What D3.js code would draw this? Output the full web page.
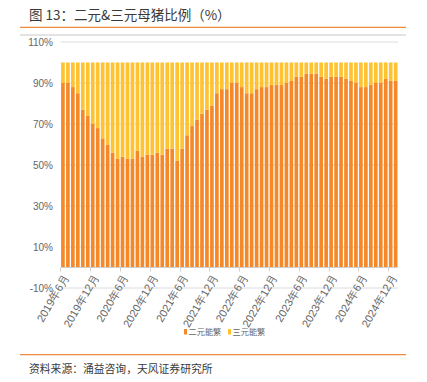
<!DOCTYPE html>
<html><head><meta charset="utf-8">
<script src="https://cdn.jsdelivr.net/npm/d3@7"></script>
<style>
html,body{margin:0;padding:0;background:#fff;}
svg{display:block;}
</style></head>
<body>
<svg id="c" width="427" height="382"></svg>
<script>
const months = [
"2019年6月","2019年7月","2019年8月","2019年9月","2019年10月","2019年11月","2019年12月",
"2020年1月","2020年2月","2020年3月","2020年4月","2020年5月","2020年6月","2020年7月","2020年8月","2020年9月","2020年10月","2020年11月","2020年12月",
"2021年1月","2021年2月","2021年3月","2021年4月","2021年5月","2021年6月","2021年7月","2021年8月","2021年9月","2021年10月","2021年11月","2021年12月",
"2022年1月","2022年2月","2022年3月","2022年4月","2022年5月","2022年6月","2022年7月","2022年8月","2022年9月","2022年10月","2022年11月","2022年12月",
"2023年1月","2023年2月","2023年3月","2023年4月","2023年5月","2023年6月","2023年7月","2023年8月","2023年9月","2023年10月","2023年11月","2023年12月",
"2024年1月","2024年2月","2024年3月","2024年4月","2024年5月","2024年6月","2024年7月","2024年8月","2024年9月","2024年10月","2024年11月","2024年12月",
"2025年1月"];
const erYuan = [90,90,88,85,77,74,70,68,63,60,56,53,54,53,53,57,54,55,55,56,55,58,58,52,58,64.5,69,72,75,77,79,85,87,87,90,90,88,85,85,87,88,88,89,89,89,90,91,93,93,94.5,94.5,94.5,93,92,93,93,93,92,91,90,88,88,89,90,90,92,91,91];
const sanYuan = [10,10,12,15,23,26,30,32,37,40,44,47,46,47,47,43,46,45,45,44,45,42,42,48,42,35.5,31,28,25,23,21,15,13,13,10,10,12,15,15,13,12,12,11,11,11,10,9,7,7,5.5,5.5,5.5,7,8,7,7,7,8,9,10,12,12,11,10,10,8,9,9];
const yTicks = [-10,10,30,50,70,90,110];
const xLabels = ["2019年6月","2019年12月","2020年6月","2020年12月","2021年6月","2021年12月","2022年6月","2022年12月","2023年6月","2023年12月","2024年6月","2024年12月"];
const seriesNames = ["二元能繁","三元能繁"];
const colors = ["#F5892A","#FFC230"];

const svg = d3.select("#c");
const cjk = "'Noto Sans CJK SC','Noto Sans',sans-serif";
const num = "'Liberation Sans Narrow','Arial Narrow','Liberation Sans',sans-serif";

// header
svg.append("text").attr("x",29).attr("y",19.5).attr("font-family",cjk).attr("font-size",13.5)
  .attr("fill","#3a3a3a").attr("xml:space","preserve").text("图 13：二元&三元母猪比例（%）");
svg.append("line").attr("x1",20).attr("x2",406).attr("y1",27.3).attr("y2",27.3).attr("stroke","#F08A3C").attr("stroke-width",1.3);
svg.append("line").attr("x1",20).attr("x2",406).attr("y1",35).attr("y2",35).attr("stroke","#c8c8c8").attr("stroke-width",1);

const x = d3.scaleBand().domain(months).range([61,397.6]).paddingInner(0.26).paddingOuter(0.02);
const y = d3.scaleLinear().domain([-10,110]).range([288,42]);

// grid
svg.append("g").selectAll("line").data(yTicks).join("line")
  .attr("x1",61).attr("x2",398).attr("y1",d=>y(d)).attr("y2",d=>y(d))
  .attr("stroke","#dcdcdc").attr("stroke-width",1);
svg.append("g").selectAll("text").data(yTicks).join("text")
  .attr("x",53).attr("y",d=>y(d)).attr("dy","0.35em").attr("text-anchor","end")
  .attr("font-family",num).attr("font-size",10).attr("fill","#666").text(d=>d+"%");

// bars
const stack = months.map((m,i)=>({m, a:erYuan[i], b:sanYuan[i]}));
const g = svg.append("g");
g.selectAll("rect.a").data(stack).join("rect").attr("class","a")
  .attr("x",d=>x(d.m)).attr("width",x.bandwidth())
  .attr("y",d=>y(d.a)).attr("height",d=>y(0)-y(d.a)).attr("fill",colors[0]);
g.selectAll("rect.b").data(stack).join("rect").attr("class","b")
  .attr("x",d=>x(d.m)).attr("width",x.bandwidth())
  .attr("y",d=>y(d.a+d.b)).attr("height",d=>y(d.a)-y(d.a+d.b)).attr("fill",colors[1]);

// x axis
const step = x.step();
svg.append("line").attr("x1",61).attr("x2",397).attr("y1",y(0)).attr("y2",y(0)).attr("stroke","#d0d0d0");
const tickIdx = xLabels.map(l=>months.indexOf(l));
svg.append("g").selectAll("line").data(tickIdx).join("line")
  .attr("x1",i=>Math.round(x(months[i]) - step*x.paddingInner()/2)+0.5)
  .attr("x2",i=>Math.round(x(months[i]) - step*x.paddingInner()/2)+0.5)
  .attr("y1",y(0)).attr("y2",y(0)+4).attr("stroke","#d0d0d0");
svg.append("g").selectAll("text").data(xLabels).join("text")
  .attr("transform",d=>`translate(${x(d)+x.bandwidth()/2+3},${y(0)+8}) rotate(-60)`)
  .attr("text-anchor","end").attr("dy","0.35em")
  .attr("font-family",num).attr("font-size",11).attr("fill","#666").text(d=>d);

// legend
const lg = svg.append("g");
const lx = [184,228];
seriesNames.forEach((n,i)=>{
  lg.append("rect").attr("x",lx[i]).attr("y",329).attr("width",3).attr("height",5.5).attr("fill",colors[i]);
  lg.append("text").attr("x",lx[i]+4.5).attr("y",332).attr("dy","0.35em")
    .attr("font-family",cjk).attr("font-size",8.2).attr("fill","#666").text(n);
});

// footer
svg.append("line").attr("x1",20).attr("x2",406).attr("y1",354.7).attr("y2",354.7).attr("stroke","#F08A3C").attr("stroke-width",1.3);
svg.append("text").attr("x",29).attr("y",369).attr("dy","0.35em").attr("font-family",cjk).attr("font-size",10.8)
  .attr("fill","#3a3a3a").text("资料来源：涌益咨询，天风证券研究所");
</script>
</body></html>
